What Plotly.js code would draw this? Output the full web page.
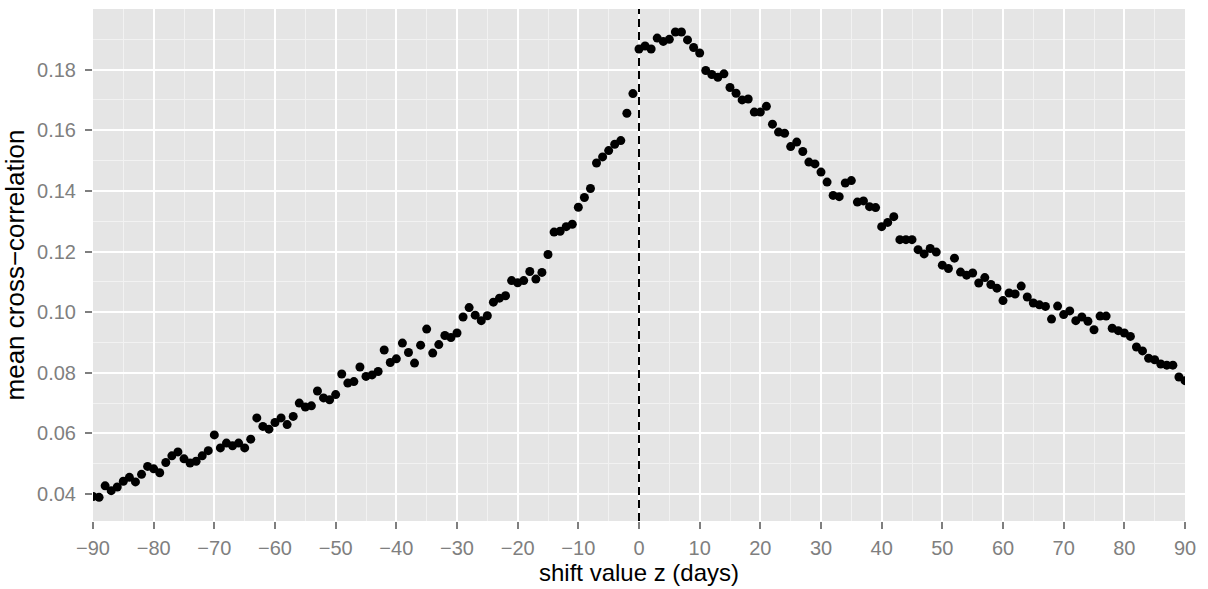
<!DOCTYPE html>
<html>
<head>
<meta charset="utf-8">
<script src="https://cdn.plot.ly/plotly-3.0.1.min.js"></script>
<style>
html,body{margin:0;padding:0;background:#fff;}
#chart{width:1208px;height:589px;}
</style>
</head>
<body>
<div id="chart"></div>
<script>
const shiftDays = [-90,-89,-88,-87,-86,-85,-84,-83,-82,-81,-80,-79,-78,-77,-76,-75,-74,-73,-72,-71,
-70,-69,-68,-67,-66,-65,-64,-63,-62,-61,-60,-59,-58,-57,-56,-55,-54,-53,-52,-51,
-50,-49,-48,-47,-46,-45,-44,-43,-42,-41,-40,-39,-38,-37,-36,-35,-34,-33,-32,-31,
-30,-29,-28,-27,-26,-25,-24,-23,-22,-21,-20,-19,-18,-17,-16,-15,-14,-13,-12,-11,
-10,-9,-8,-7,-6,-5,-4,-3,-2,-1,0,1,2,3,4,5,6,7,8,9,
10,11,12,13,14,15,16,17,18,19,20,21,22,23,24,25,26,27,28,29,
30,31,32,33,34,35,36,37,38,39,40,41,42,43,44,45,46,47,48,49,
50,51,52,53,54,55,56,57,58,59,60,61,62,63,64,65,66,67,68,69,
70,71,72,73,74,75,76,77,78,79,80,81,82,83,84,85,86,87,88,89,90];

const meanCrossCorrelation = [
0.0392,0.0389,0.0427,0.0411,0.0423,0.0442,0.0455,0.0440,0.0465,0.0491,
0.0483,0.0470,0.0504,0.0526,0.0539,0.0516,0.0502,0.0508,0.0526,0.0543,
0.0595,0.0552,0.0568,0.0559,0.0568,0.0552,0.0581,0.0651,0.0623,0.0614,
0.0636,0.0651,0.0629,0.0656,0.0700,0.0687,0.0691,0.0740,0.0717,0.0711,
0.0728,0.0796,0.0766,0.0771,0.0819,0.0788,0.0793,0.0804,0.0875,0.0834,
0.0846,0.0898,0.0867,0.0832,0.0891,0.0944,0.0865,0.0893,0.0923,0.0916,
0.0931,0.0984,0.1015,0.0990,0.0972,0.0988,0.1033,0.1046,0.1054,0.1104,
0.1097,0.1104,0.1134,0.1109,0.1131,0.1190,0.1264,0.1267,0.1282,0.1290,
0.1346,0.1378,0.1408,0.1492,0.1512,0.1533,0.1554,0.1566,0.1656,0.1721,
0.1868,0.1878,0.1868,0.1904,0.1893,0.1900,0.1924,0.1924,0.1898,0.1873,
0.1855,0.1797,0.1784,0.1775,0.1786,0.1741,0.1722,0.1700,0.1703,0.1660,
0.1660,0.1679,0.1620,0.1594,0.1590,0.1546,0.1561,0.1530,0.1495,0.1489,
0.1462,0.1429,0.1385,0.1381,0.1426,0.1434,0.1363,0.1367,0.1348,0.1345,
0.1282,0.1296,0.1315,0.1239,0.1239,0.1239,0.1206,0.1192,0.1210,0.1198,
0.1155,0.1144,0.1178,0.1132,0.1122,0.1129,0.1096,0.1114,0.1091,0.1079,
0.1038,0.1063,0.1060,0.1086,0.1050,0.1030,0.1024,0.1019,0.0977,0.1020,
0.0992,0.1004,0.0972,0.0984,0.0970,0.0942,0.0987,0.0987,0.0947,0.0939,
0.0931,0.0920,0.0885,0.0872,0.0848,0.0843,0.0829,0.0825,0.0825,0.0786,
0.0774];

const xTickVals = [-90,-80,-70,-60,-50,-40,-30,-20,-10,0,10,20,30,40,50,60,70,80,90];
const xTickText = ["\u221290","\u221280","\u221270","\u221260","\u221250","\u221240","\u221230","\u221220","\u221210","0","10","20","30","40","50","60","70","80","90"];
const yTickVals = [0.04,0.06,0.08,0.10,0.12,0.14,0.16,0.18];
const yTickText = ["0.04","0.06","0.08","0.10","0.12","0.14","0.16","0.18"];

const xTitle = "shift value z (days)";
const yTitle = "mean cross\u2212correlation";
const refLineX = 0;

const fontFam = "Liberation Sans, Arial, Helvetica, sans-serif";

const trace = {
  x: shiftDays,
  y: meanCrossCorrelation,
  type: "scatter",
  mode: "markers",
  marker: {color: "#000000", size: 9, line: {width: 0}},
  cliponaxis: true,
  hoverinfo: "x+y"
};

const layout = {
  width: 1208,
  height: 589,
  margin: {l: 93, r: 23, t: 9, b: 68},
  paper_bgcolor: "#ffffff",
  plot_bgcolor: "#E5E5E5",
  showlegend: false,
  font: {family: fontFam},
  xaxis: {
    range: [-90, 90],
    tickmode: "array",
    tickvals: xTickVals,
    ticktext: xTickText,
    ticks: "outside",
    ticklen: 7,
    tickwidth: 2,
    tickcolor: "#7F7F7F",
    ticklabelstandoff: 2,
    tickfont: {family: fontFam, size: 20, color: "#7F7F7F"},
    showgrid: true,
    gridcolor: "#FFFFFF",
    gridwidth: 2,
    minor: {tick0: -85, dtick: 10, showgrid: true, gridcolor: "#F2F2F2", gridwidth: 1, ticks: ""},
    zeroline: false,
    showline: false,
    title: {text: xTitle, font: {family: fontFam, size: 24, color: "#000000"}, standoff: 4}
  },
  yaxis: {
    range: [0.0311, 0.2],
    tickmode: "array",
    tickvals: yTickVals,
    ticktext: yTickText,
    ticks: "outside",
    ticklen: 7,
    tickwidth: 2,
    tickcolor: "#7F7F7F",
    ticklabelstandoff: 5,
    tickfont: {family: fontFam, size: 20, color: "#7F7F7F"},
    showgrid: true,
    gridcolor: "#FFFFFF",
    gridwidth: 2,
    minor: {tick0: 0.03, dtick: 0.02, showgrid: true, gridcolor: "#F2F2F2", gridwidth: 1, ticks: ""},
    zeroline: false,
    showline: false,
    title: {text: yTitle, font: {family: fontFam, size: 26, color: "#000000"}, standoff: 5}
  },
  shapes: [{
    type: "line",
    xref: "x",
    yref: "paper",
    x0: refLineX, x1: refLineX,
    y0: 0, y1: 1,
    line: {color: "#000000", width: 2, dash: "8px,5px"},
    layer: "above"
  }]
};

Plotly.newPlot("chart", [trace], layout, {displayModeBar: false, staticPlot: true});
</script>
</body>
</html>
